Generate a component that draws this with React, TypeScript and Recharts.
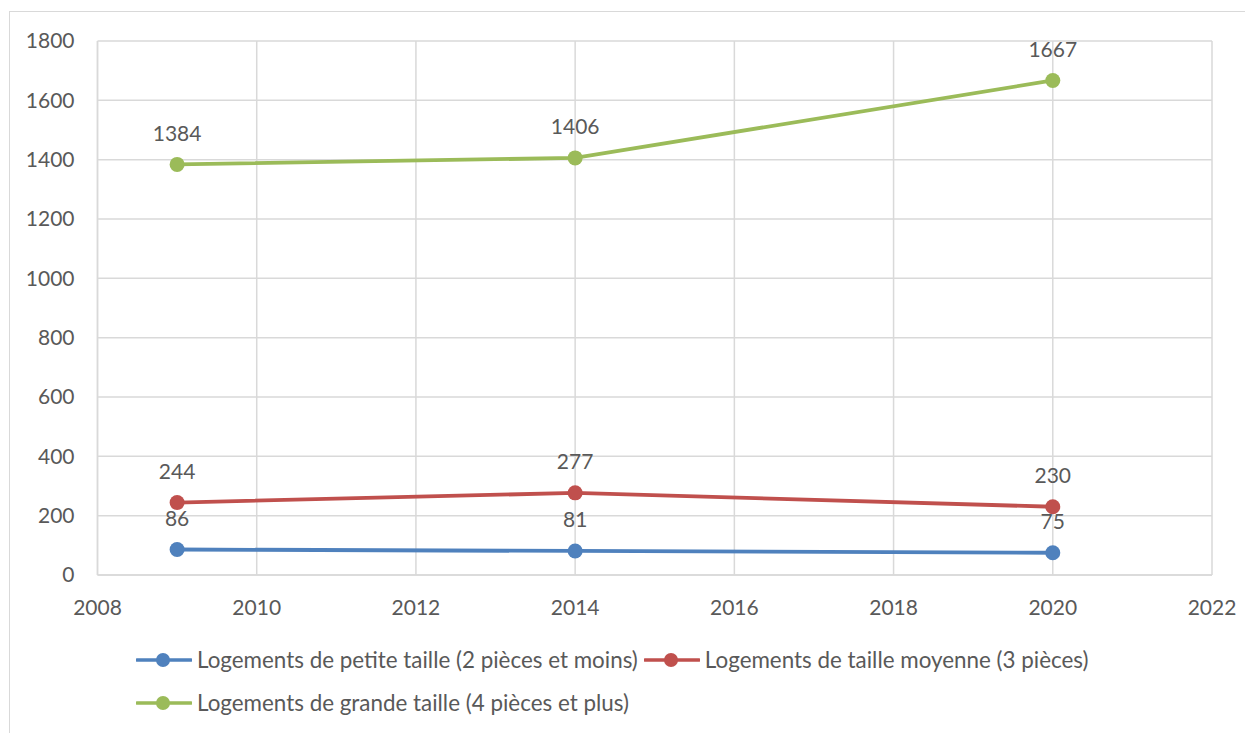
import React from "react";
import { LineChart, Line, XAxis, YAxis, CartesianGrid, Legend, LabelList } from "recharts";

const years = [2009, 2014, 2020];
const petite = [86, 81, 75];
const moyenne = [244, 277, 230];
const grande = [1384, 1406, 1667];
const xTicks = [2008, 2010, 2012, 2014, 2016, 2018, 2020, 2022];
const yTicks = [0, 200, 400, 600, 800, 1000, 1200, 1400, 1600, 1800];
const seriesKeys = ["petite", "moyenne", "grande"];
const seriesNames = [
  "Logements de petite taille (2 pièces et moins)",
  "Logements de taille moyenne (3 pièces)",
  "Logements de grande taille (4 pièces et plus)",
];
const colors = ["#4f81bd", "#c0504d", "#9bbb59"];

const data = years.map((y, i) => ({ year: y, petite: petite[i], moyenne: moyenne[i], grande: grande[i] }));

const FONT = "Lato, 'Open Sans', sans-serif";
const TXT = "#595959";

const renderLabel = (props: any) => {
  const { x, y, value } = props;
  return (
    <text x={x} y={y - 31} dy="0.35em" textAnchor="middle" fill={TXT} fontSize={21} fontFamily={FONT}>
      {value}
    </text>
  );
};

const LegendIcon = ({ color }: { color: string }) => (
  <svg width={56} height={16} style={{ display: "block" }}>
    <line x1={1} y1={8} x2={55} y2={8} stroke={color} strokeWidth={3.5} strokeLinecap="round" />
    <circle cx={27} cy={8} r={7} fill={color} />
  </svg>
);

const LegendItem = ({ idx }: { idx: number }) => (
  <span style={{ display: "inline-flex", alignItems: "center" }}>
    <LegendIcon color={colors[idx]} />
    <span style={{ marginLeft: 5, fontSize: 22.4, color: TXT, fontFamily: FONT, lineHeight: "26px" }}>{seriesNames[idx]}</span>
  </span>
);

const renderLegend = () => (
  <div style={{ position: "relative", height: 0 }}>
    <div style={{ position: "absolute", left: 128, top: 639, whiteSpace: "nowrap", display: "flex", alignItems: "center" }}>
      <LegendItem idx={0} />
      <span style={{ width: 6 }} />
      <LegendItem idx={1} />
    </div>
    <div style={{ position: "absolute", left: 128, top: 682, whiteSpace: "nowrap", display: "flex", alignItems: "center" }}>
      <LegendItem idx={2} />
    </div>
  </div>
);

export default function App() {
  return (
    <div style={{ position: "relative", width: 1245, height: 725 }}>
      <style>{"body{overflow:hidden}"}</style>
      <div
        style={{
          position: "absolute",
          left: 1,
          top: 3,
          width: 1300,
          height: 800,
          borderTop: "1.5px solid #d9d9d9",
          borderLeft: "1.5px solid #d9d9d9",
        }}
      />
      <LineChart
        width={1245}
        height={725}
        data={data}
        margin={{ top: 33, right: 41, left: 29.5, bottom: 0 }}
        style={{ position: "absolute", left: 0, top: 0 }}
      >
        <CartesianGrid stroke="#d9d9d9" strokeWidth={1.5} horizontal vertical verticalValues={xTicks} />
        <XAxis
          dataKey="year"
          type="number"
          domain={[2008, 2022]}
          ticks={xTicks}
          interval={0}
          tickLine={false}
          axisLine={{ stroke: "#d9d9d9", strokeWidth: 1.5 }}
          tickSize={6}
          tickMargin={19}
          height={158}
          tick={{ fill: TXT, fontSize: 21, fontFamily: FONT }}
        />
        <YAxis
          type="number"
          domain={[0, 1800]}
          ticks={yTicks}
          interval={0}
          tickLine={false}
          axisLine={{ stroke: "#d9d9d9", strokeWidth: 1.5 }}
          tickSize={6}
          tickMargin={17}
          width={60}
          tick={{ fill: TXT, fontSize: 21, fontFamily: FONT }}
        />
        <Legend verticalAlign="top" align="left" content={renderLegend} wrapperStyle={{ left: 0, top: 0, width: 1245, height: 0 }} />
        {seriesKeys.map((k, i) => (
          <Line
            key={k}
            dataKey={k}
            name={seriesNames[i]}
            stroke={colors[i]}
            strokeWidth={3.8}
            dot={{ r: 7.5, fill: colors[i], stroke: colors[i], strokeWidth: 0 }}
            isAnimationActive={false}
          >
            <LabelList dataKey={k} content={renderLabel} />
          </Line>
        ))}
      </LineChart>
    </div>
  );
}
